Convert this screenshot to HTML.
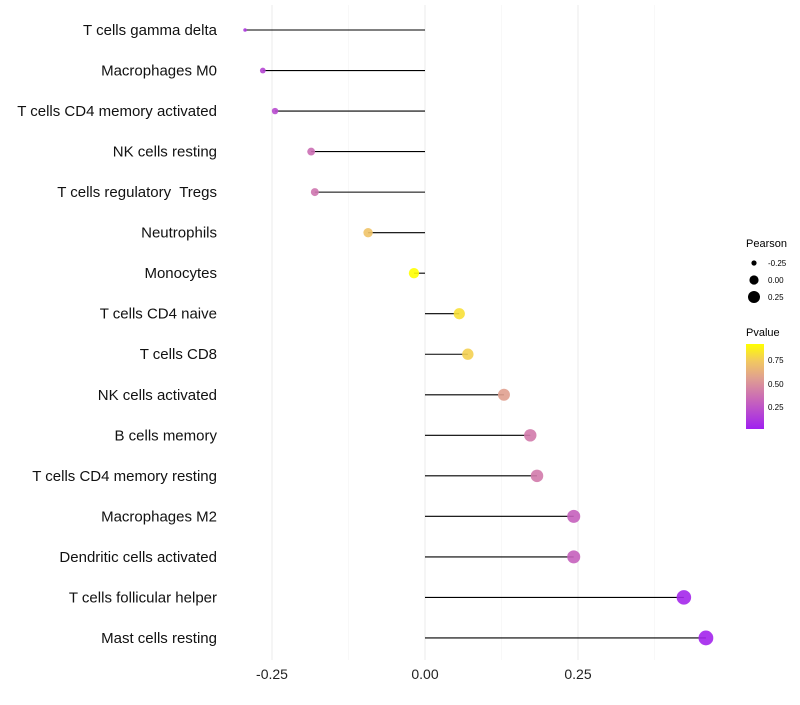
<!DOCTYPE html>
<html><head><meta charset="utf-8"><style>
body{margin:0;background:#fff;}
svg{font-family:"Liberation Sans",sans-serif;}
</style></head><body>
<svg id="chart" width="800" height="700">
<defs>
<linearGradient id="pg" x1="0" y1="1" x2="0" y2="0">
<stop offset="0" stop-color="#A020F0"/>
<stop offset="0.35" stop-color="#C968B8"/>
<stop offset="0.6" stop-color="#E0A090"/>
<stop offset="0.8" stop-color="#F2C860"/>
<stop offset="1" stop-color="#FFFF00"/>
</linearGradient>
</defs>
<g id="grid"></g><g id="marks"></g><g id="labels"></g>
<g font-size="10">
<text x="746" y="247" font-size="11">Pearson</text>
<circle cx="754" cy="263" r="2.6" fill="#000"/><text x="768" y="266" font-size="8">-0.25</text>
<circle cx="754" cy="280" r="4.6" fill="#000"/><text x="768" y="283" font-size="8">0.00</text>
<circle cx="754" cy="297" r="6" fill="#000"/><text x="768" y="300" font-size="8">0.25</text>
</g>
<g>
<text x="746" y="336" font-size="11">Pvalue</text>
<rect x="746" y="344" width="18" height="85" fill="url(#pg)"/>
<text x="768" y="363" font-size="8">0.75</text>
<text x="768" y="387" font-size="8">0.50</text>
<text x="768" y="410" font-size="8">0.25</text>
</g>
</svg>
<script>
const categories=["T cells gamma delta","Macrophages M0","T cells CD4 memory activated","NK cells resting","T cells regulatory  Tregs","Neutrophils","Monocytes","T cells CD4 naive","T cells CD8","NK cells activated","B cells memory","T cells CD4 memory resting","Macrophages M2","Dendritic cells activated","T cells follicular helper","Mast cells resting"];
const pearson=[-0.294,-0.265,-0.245,-0.186,-0.18,-0.093,-0.018,0.056,0.070,0.129,0.172,0.183,0.243,0.243,0.423,0.459];
const pvalue=[0.12,0.18,0.2,0.35,0.38,0.7,0.92,0.8,0.75,0.55,0.4,0.4,0.3,0.3,0.05,0.04];
const xTicks=[-0.25,0,0.25];
const xTickLabels=["-0.25","0.00","0.25"];
const NS="http://www.w3.org/2000/svg";
const x=v=>425+v*612;
const y=i=>30+i*40.53;
const rad=v=>1.8+5.6*Math.sqrt(Math.max(0,(v+0.294)/0.753));
const stops=[[0,[160,32,240]],[0.35,[201,104,184]],[0.6,[224,160,144]],[0.8,[242,200,96]],[1,[255,255,0]]];
function col(p){let t=Math.max(0,Math.min(1,(p-0.02)/0.88));for(let k=1;k<stops.length;k++){if(t<=stops[k][0]){const a=stops[k-1],b=stops[k],f=(t-a[0])/(b[0]-a[0]);return "rgb("+a[1].map((c,j)=>Math.round(c+(b[1][j]-c)*f)).join(",")+")";}}return "rgb(255,255,0)";}
function mk(tag,at,parent){const e=document.createElementNS(NS,tag);for(const k in at)e.setAttribute(k,at[k]);document.getElementById(parent).appendChild(e);return e;}
[-0.25,-0.125,0,0.125,0.25,0.375].forEach(v=>{const major=Math.abs(v%0.25)<1e-9;const l=mk("line",{x1:x(v),x2:x(v),y1:5,y2:660,stroke:major?"#ebebeb":"#f3f3f3","stroke-width":major?1:0.6},"grid");

});
xTicks.forEach((v,i)=>{const t=mk("text",{x:x(v),y:679,"text-anchor":"middle","font-size":14,fill:"#222"},"labels");t.textContent=xTickLabels[i];

});
categories.forEach((c,i)=>{
const l=mk("line",{x1:x(0),x2:x(pearson[i]),y1:y(i),y2:y(i),stroke:"#000","stroke-width":1.1},"marks");


const d=mk("circle",{cx:x(pearson[i]),cy:y(i),r:rad(pearson[i]),fill:col(pvalue[i]),"fill-opacity":0.9},"marks");


const t=mk("text",{x:217,y:y(i)+5,"text-anchor":"end","font-size":15,fill:"#111","xml:space":"preserve",style:"white-space:pre"},"labels");t.textContent=c;


});
</script>
</body></html>
